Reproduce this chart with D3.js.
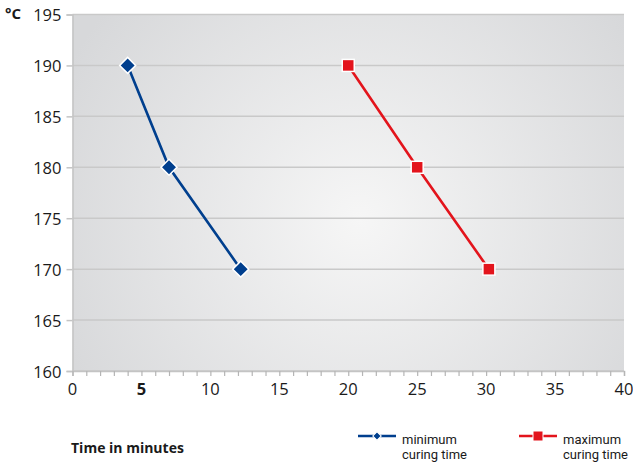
<!DOCTYPE html>
<html><head><meta charset="utf-8">
<script src="https://cdn.jsdelivr.net/npm/d3@7"></script>
<style>body{margin:0;background:#fff}svg{display:block}</style>
</head><body>
<script>
const minTime = [4, 7, 12.2];
const minTemp = [190, 180, 170];
const maxTime = [20, 25, 30.2];
const maxTemp = [190, 180, 170];
const xTicks = [0, 5, 10, 15, 20, 25, 30, 35, 40];
const yTicks = [160, 165, 170, 175, 180, 185, 190, 195];
const seriesNames = ["minimum|curing time", "maximum|curing time"];

const W = 633, H = 462;
const L = 72.5, R = 624, T = 14.5, B = 371;
const svg = d3.select("body").append("svg").attr("width", W).attr("height", H);
const x = d3.scaleLinear().domain([0, 40]).range([L, R]);
const y = d3.scaleLinear().domain([160, 195]).range([B, T]);
const font = "'Open Sans', sans-serif";
const legFont = "Roboto, sans-serif";

const defs = svg.append("defs");
const g = defs.append("radialGradient").attr("id", "bg")
  .attr("gradientUnits", "userSpaceOnUse")
  .attr("cx", 360).attr("cy", 220).attr("r", 330);
g.append("stop").attr("offset", "0").attr("stop-color", "#f6f6f6");
g.append("stop").attr("offset", "1").attr("stop-color", "#d7d8da");
svg.append("rect").attr("x", L).attr("y", T).attr("width", R - L).attr("height", B - T).attr("fill", "url(#bg)");

// gridlines
svg.append("g").selectAll("line").data(yTicks).join("line")
  .attr("x1", L).attr("x2", R).attr("y1", d => y(d)).attr("y2", d => y(d))
  .attr("stroke", "#c9c9c9").attr("stroke-width", 1.5);

// y axis
const ya = svg.append("g").attr("transform", `translate(${L},0)`)
  .call(d3.axisLeft(y).tickValues(yTicks).tickSize(6).tickPadding(5));
ya.select(".domain").attr("stroke", "#c4c4c4").attr("stroke-width", 1.5);
ya.selectAll(".tick line").attr("stroke", "#c4c4c4").attr("stroke-width", 1.5);
ya.selectAll("text").attr("font-family", font).attr("font-size", 16.5).attr("fill", "#1a1a1a").attr("dy", "0.38em");

// x axis
const xa = svg.append("g").attr("transform", `translate(0,${B})`)
  .call(d3.axisBottom(x).ticks(40).tickSize(5).tickFormat(() => ""));
xa.select(".domain").attr("stroke", "#c4c4c4").attr("stroke-width", 1.5);
xa.selectAll(".tick line").attr("stroke", "#b5b5b5").attr("stroke-width", 1.2);
svg.append("g").selectAll("text").data(xTicks).join("text")
  .attr("x", d => x(d)).attr("y", B + 24).attr("text-anchor", "middle")
  .attr("font-family", font).attr("font-size", 16.5).attr("fill", "#1a1a1a")
  .attr("font-weight", d => d === 5 ? "bold" : "normal").text(d => d);

svg.append("text").attr("x", 5).attr("y", 19).attr("font-family", font).attr("font-weight", "bold")
  .attr("font-size", 15).attr("fill", "#1a1a1a").text("°C");
svg.append("text").attr("x", 71).attr("y", 453).attr("font-family", font).attr("font-weight", "bold")
  .attr("font-size", 14).attr("fill", "#1a1a1a").text("Time in minutes");

const line = d3.line().x(d => x(d[0])).y(d => y(d[1]));
const blue = "#003f8e", red = "#e3141c";
const minPts = minTime.map((t, i) => [t, minTemp[i]]);
const maxPts = maxTime.map((t, i) => [t, maxTemp[i]]);

svg.append("path").datum(minPts).attr("d", line).attr("fill", "none").attr("stroke", blue).attr("stroke-width", 2.6);
svg.append("path").datum(maxPts).attr("d", line).attr("fill", "none").attr("stroke", red).attr("stroke-width", 2.6);

const diamond = d3.symbol().type(d3.symbolSquare).size(128);
svg.append("g").selectAll("path").data(minPts).join("path")
  .attr("d", diamond).attr("transform", d => `translate(${x(d[0])},${y(d[1])}) rotate(45)`)
  .attr("fill", blue).attr("stroke", "#fff").attr("stroke-width", 1.5);
svg.append("g").selectAll("rect").data(maxPts).join("rect")
  .attr("x", d => x(d[0]) - 6).attr("y", d => y(d[1]) - 6).attr("width", 12).attr("height", 12)
  .attr("fill", red).attr("stroke", "#fff").attr("stroke-width", 1.5);

// legend
const leg = [{c: blue, x0: 358, type: "d"}, {c: red, x0: 519, type: "s"}];
leg.forEach((l, i) => {
  const gl = svg.append("g");
  gl.append("line").attr("x1", l.x0).attr("x2", l.x0 + 38).attr("y1", 436).attr("y2", 436)
    .attr("stroke", l.c).attr("stroke-width", 2.6);
  if (l.type === "d") {
    gl.append("path").attr("d", d3.symbol().type(d3.symbolSquare).size(36)())
      .attr("transform", `translate(${l.x0 + 19},436) rotate(45)`).attr("fill", l.c)
      .attr("stroke", "#fff").attr("stroke-width", 1);
  } else {
    gl.append("rect").attr("x", l.x0 + 14).attr("y", 431).attr("width", 10).attr("height", 10)
      .attr("fill", l.c).attr("stroke", "#fff").attr("stroke-width", 1);
  }
  const parts = seriesNames[i].split("|");
  parts.forEach((p, j) => {
    gl.append("text").attr("x", l.x0 + 44).attr("y", 443.5 + j * 15.5)
      .attr("font-family", legFont).attr("font-size", 13).attr("fill", "#1a1a1a").text(p);
  });
});
</script>
</body></html>
